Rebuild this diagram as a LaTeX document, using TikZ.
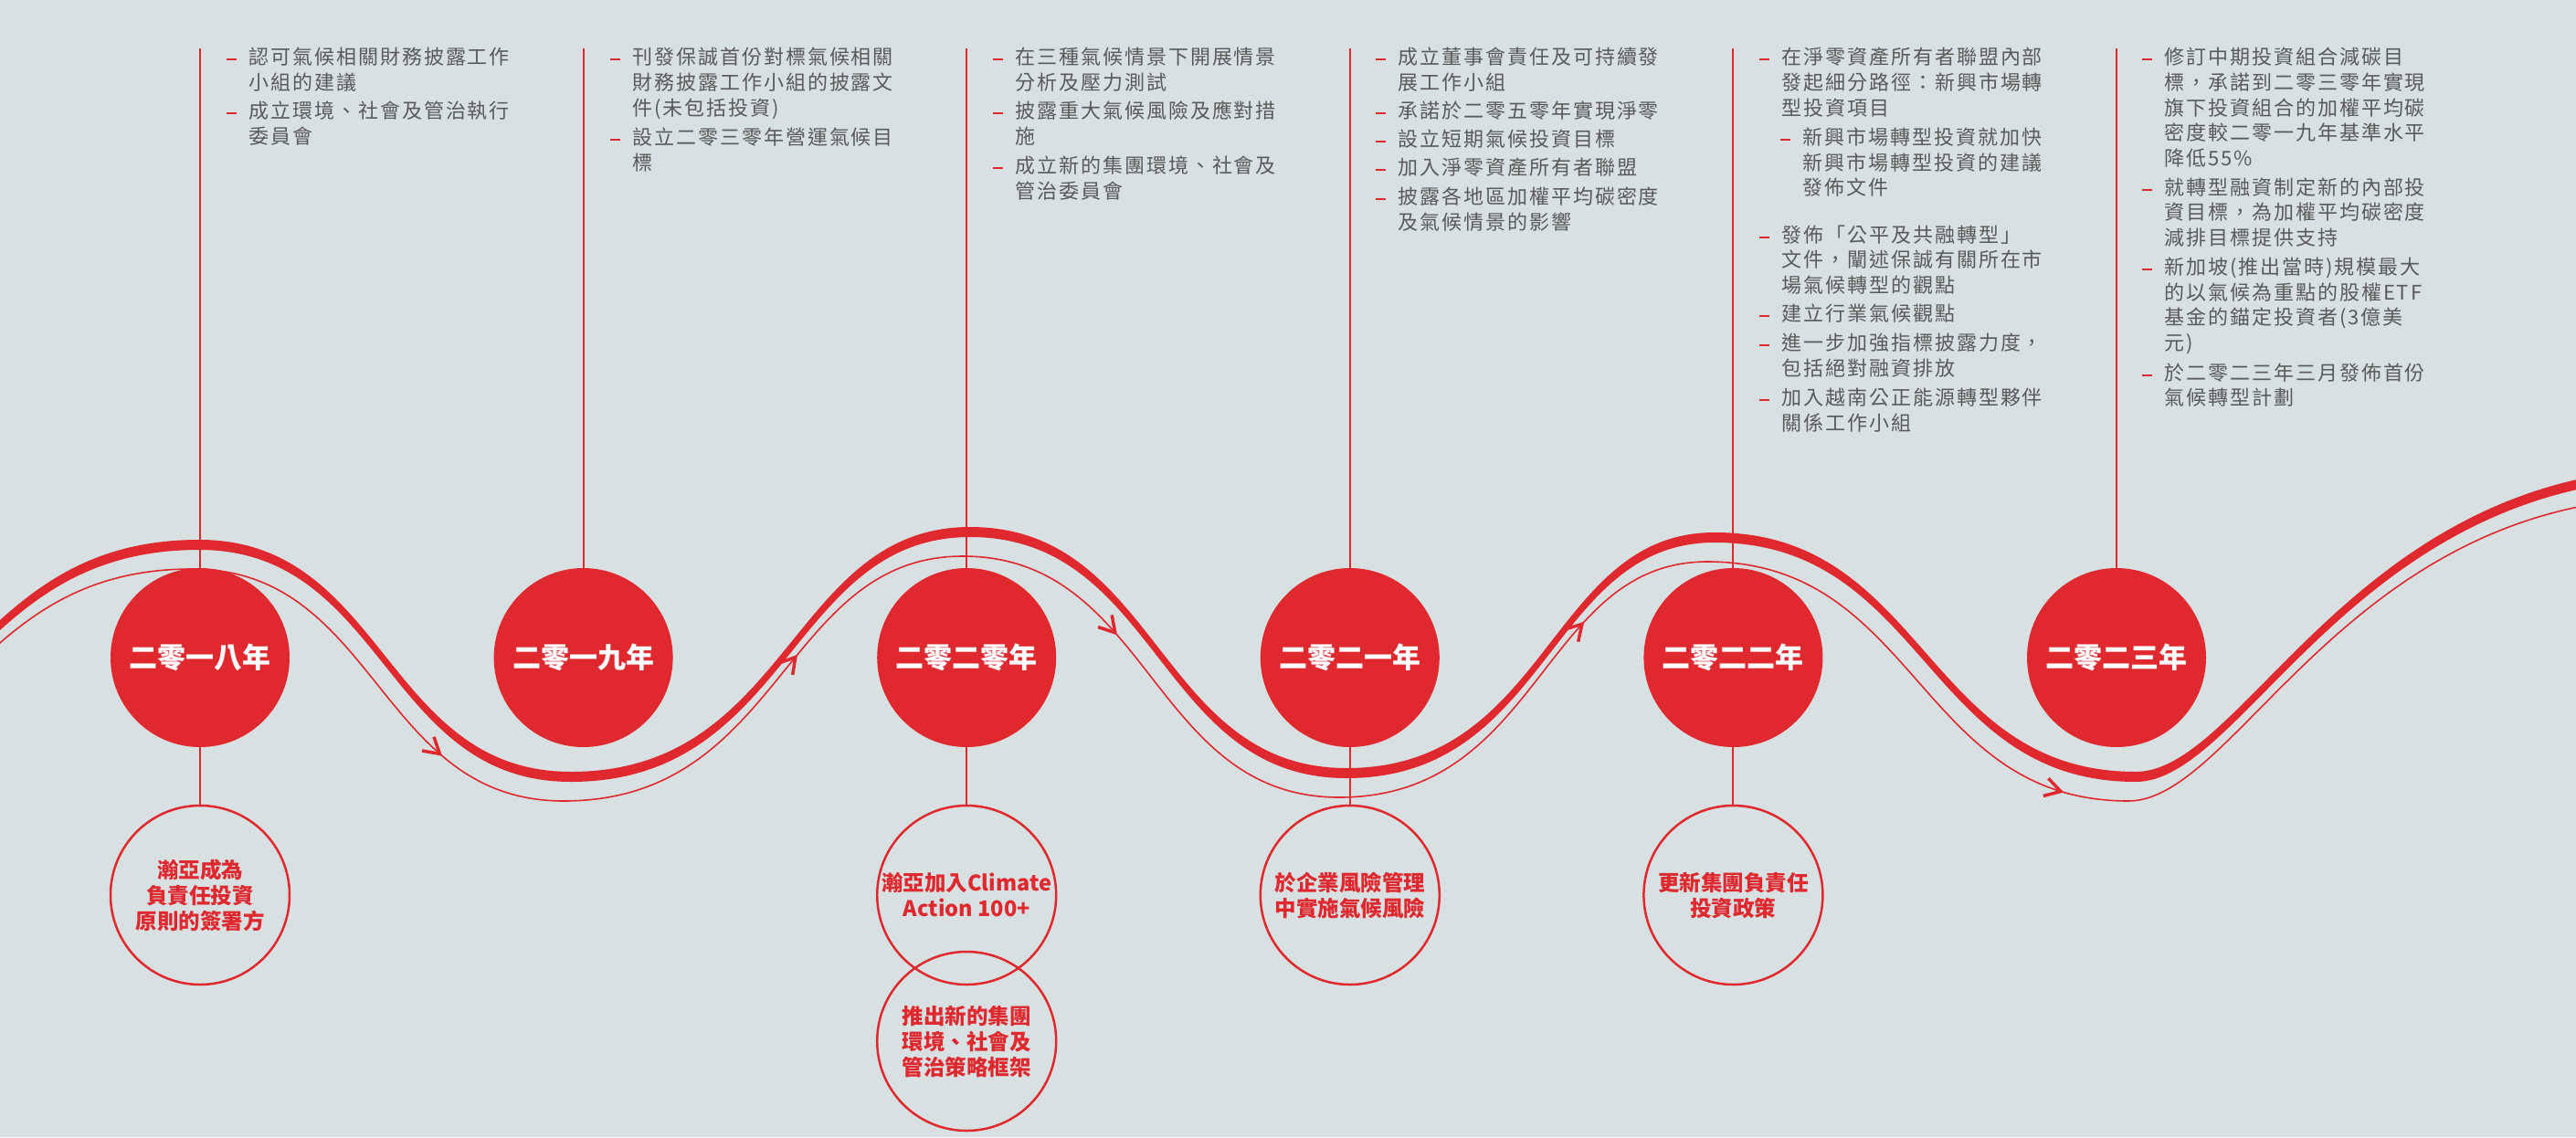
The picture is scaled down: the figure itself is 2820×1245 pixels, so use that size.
\documentclass[tikz,border=0pt]{standalone}
\usepackage{fontspec}
\setmainfont{Noto Sans CJK TC}
\newfontfamily\cjksp[LetterSpace=9]{Noto Sans CJK TC}
\usetikzlibrary{arrows.meta,decorations.markings}
\definecolor{bg}{HTML}{D8E0E1}
\definecolor{pred}{HTML}{E0282F}
\definecolor{tgray}{HTML}{5A5A5A}
\newcommand\tline[4]{\node[txt] (#1) at (#2,#3) {#4};}
\newcommand\tdash[1]{\draw[dashr] ([xshift=-24pt,yshift=5.5pt]#1.base west) -- ++(11,0);}
\begin{document}
\begin{tikzpicture}[x=1pt,y=-1pt,
  yearc/.style={circle,fill=pred,minimum size=196pt,inner sep=0pt,text=white,font=\fontsize{31}{31}\selectfont\bfseries},
  evc/.style={circle,draw=pred,line width=2.5pt,minimum size=196pt,inner sep=0pt,text=pred,align=center,font=\fontsize{23.5}{28}\selectfont\bfseries},
  conn/.style={draw=pred,line width=2pt},
  txt/.style={anchor=base west,inner sep=0pt,text=tgray,font=\fontsize{22}{22}\cjksp},
  dashr/.style={draw=pred,line width=2pt},
  thin/.style={draw=pred,line width=1.6pt},
  arr/.style={postaction={decorate,decoration={markings,mark=at position #1 with {\arrow{Straight Barb[length=17pt,width=20pt,line width=3.5pt]}}}}}
]
\useasboundingbox (0,0) rectangle (2820,1245);
\fill[bg] (0,0) rectangle (2820,1245);

\begin{scope}
\clip (0,0) rectangle (2820,1245);
% thick ribbon
\fill[pred] (-300,845) .. controls (-41,845) and (-41,591) .. (218,591)
  .. controls (421.5,591) and (421.5,845) .. (625,845)
  .. controls (865,845) and (865,577) .. (1062,577)
  .. controls (1268,577) and (1268,841) .. (1474,841)
  .. controls (1695.7,841) and (1695.7,583) .. (1877,583)
  .. controls (2107.5,583) and (2107.5,845) .. (2338,845)
  .. controls (2458,845) and (2579,512) .. (2940,512)
  -- (2940,523)
  .. controls (2579,523) and (2458,856) .. (2338,856)
  .. controls (2107.5,856) and (2107.5,594) .. (1877,594)
  .. controls (1695.7,594) and (1695.7,852) .. (1474,852)
  .. controls (1268,852) and (1268,588) .. (1062,588)
  .. controls (865,588) and (865,856) .. (625,856)
  .. controls (421.5,856) and (421.5,602) .. (218,602)
  .. controls (-41,602) and (-41,856) .. (-300,856) -- cycle;
% thin line with arrows
\draw[thin] (-308,877) .. controls (-49,877) and (-49,623) .. (210,623);
\draw[thin,arr=0.71] (210,623) .. controls (413.5,623) and (413.5,877) .. (617,877);
\draw[thin,arr=0.59] (617,877) .. controls (857,877) and (857,609) .. (1054,609);
\draw[thin,arr=0.385] (1054,609) .. controls (1260,609) and (1260,873) .. (1466,873);
\draw[thin,arr=0.69] (1466,873) .. controls (1687.7,873) and (1687.7,615) .. (1869,615);
\draw[thin,arr=0.87] (1869,615) .. controls (2099.5,615) and (2099.5,877) .. (2330,877);
\draw[thin] (2330,877) .. controls (2450,877) and (2571,544) .. (2932,544);
\end{scope}

% year circles
\node[yearc] (y1) at (219,720) {二零一八年};
\node[yearc] (y2) at (638.6,720) {二零一九年};
\node[yearc] (y3) at (1058.2,720) {二零二零年};
\node[yearc] (y4) at (1477.8,720) {二零二一年};
\node[yearc] (y5) at (1897.4,720) {二零二二年};
\node[yearc] (y6) at (2317,720) {二零二三年};

% top line ends
\coordinate (t1) at (219,53);
\coordinate (t2) at (638.6,53);
\coordinate (t3) at (1058.2,53);
\coordinate (t4) at (1477.8,53);
\coordinate (t5) at (1897.4,53);
\coordinate (t6) at (2317,53);
\foreach \i in {1,...,6} {\draw[conn] (t\i) -- (y\i.north);}

% event circles
\node[evc] (e1) at (219,980) {瀚亞成為\\負責任投資\\原則的簽署方};
\node[evc] (e3a) at (1058.2,980) {瀚亞加入Climate\\Action 100+};
\node[evc] (e3b) at (1058.2,1140) {推出新的集團\\環境、社會及\\管治策略框架};
\node[evc] (e4) at (1477.8,980) {於企業風險管理\\中實施氣候風險};
\node[evc] (e5) at (1897.4,980) {更新集團負責任\\投資政策};
\draw[conn] (y1.south) -- (e1.north);
\draw[conn] (y3.south) -- (e3a.north);
\draw[conn] (y4.south) -- (e4.north);
\draw[conn] (y5.south) -- (e5.north);

% block 1
\tline{a1}{272}{70}{認可氣候相關財務披露工作}\tdash{a1}
\tline{a2}{272}{98}{小組的建議}
\tline{a3}{272}{129}{成立環境、社會及管治執行}\tdash{a3}
\tline{a4}{272}{157}{委員會}
% block 2
\tline{b1}{692}{70}{刊發保誠首份對標氣候相關}\tdash{b1}
\tline{b2}{692}{98}{財務披露工作小組的披露文}
\tline{b3}{692}{126}{件(未包括投資)}
\tline{b4}{692}{158}{設立二零三零年營運氣候目}\tdash{b4}
\tline{b5}{692}{186}{標}
% block 3
\tline{c1}{1111}{70}{在三種氣候情景下開展情景}\tdash{c1}
\tline{c2}{1111}{98}{分析及壓力測試}
\tline{c3}{1111}{129.5}{披露重大氣候風險及應對措}\tdash{c3}
\tline{c4}{1111}{157.5}{施}
\tline{c5}{1111}{189}{成立新的集團環境、社會及}\tdash{c5}
\tline{c6}{1111}{217}{管治委員會}
% block 4
\tline{d1}{1530}{70}{成立董事會責任及可持續發}\tdash{d1}
\tline{d2}{1530}{98}{展工作小組}
\tline{d3}{1530}{129}{承諾於二零五零年實現淨零}\tdash{d3}
\tline{d4}{1530}{160}{設立短期氣候投資目標}\tdash{d4}
\tline{d5}{1530}{191}{加入淨零資產所有者聯盟}\tdash{d5}
\tline{d6}{1530}{223}{披露各地區加權平均碳密度}\tdash{d6}
\tline{d7}{1530}{251}{及氣候情景的影響}
% block 5
\tline{f1}{1950}{70}{在淨零資產所有者聯盟內部}\tdash{f1}
\tline{f2}{1950}{98}{發起細分路徑：新興市場轉}
\tline{f3}{1950}{126}{型投資項目}
\tline{f4}{1973}{158}{新興市場轉型投資就加快}\tdash{f4}
\tline{f5}{1973}{186}{新興市場轉型投資的建議}
\tline{f6}{1973}{213}{發佈文件}
\tline{f7}{1950}{265}{發佈「公平及共融轉型」}\tdash{f7}
\tline{f8}{1950}{292}{文件，闡述保誠有關所在市}
\tline{f9}{1950}{320}{場氣候轉型的觀點}
\tline{f10}{1950}{351}{建立行業氣候觀點}\tdash{f10}
\tline{f11}{1950}{383}{進一步加強指標披露力度，}\tdash{f11}
\tline{f12}{1950}{411}{包括絕對融資排放}
\tline{f13}{1950}{443}{加入越南公正能源轉型夥伴}\tdash{f13}
\tline{f14}{1950}{471}{關係工作小組}
% block 6
\tline{g1}{2369}{70}{修訂中期投資組合減碳目}\tdash{g1}
\tline{g2}{2369}{98}{標，承諾到二零三零年實現}
\tline{g3}{2369}{126}{旗下投資組合的加權平均碳}
\tline{g4}{2369}{153}{密度較二零一九年基準水平}
\tline{g5}{2369}{181}{降低55\%}
\tline{g6}{2369}{213}{就轉型融資制定新的內部投}\tdash{g6}
\tline{g7}{2369}{240}{資目標，為加權平均碳密度}
\tline{g8}{2369}{268}{減排目標提供支持}
\tline{g9}{2369}{300}{新加坡(推出當時)規模最大}\tdash{g9}
\tline{g10}{2369}{328}{的以氣候為重點的股權ETF}
\tline{g11}{2369}{355}{基金的錨定投資者(3億美}
\tline{g12}{2369}{383}{元)}
\tline{g13}{2369}{416}{於二零二三年三月發佈首份}\tdash{g13}
\tline{g14}{2369}{443}{氣候轉型計劃}
\end{tikzpicture}
\end{document}
